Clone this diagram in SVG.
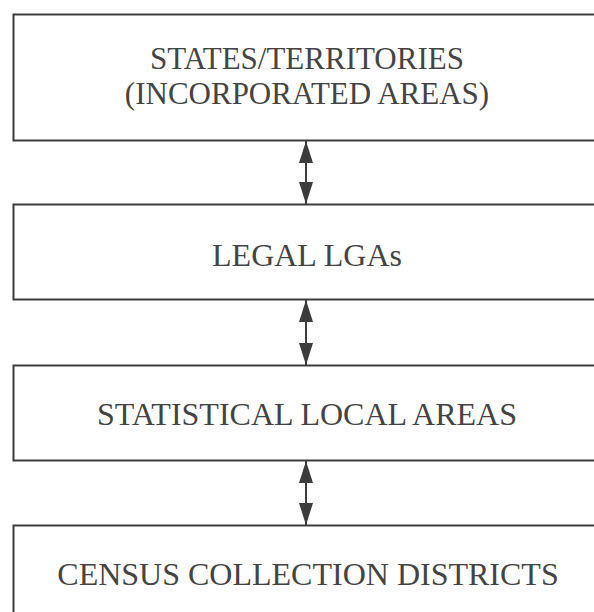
<svg xmlns="http://www.w3.org/2000/svg" width="594" height="612" viewBox="0 0 594 612">
<style>
.box{fill:#fff;stroke:#3c3c3c;stroke-width:2}
.lbl{font-family:"Liberation Serif","Times New Roman",serif;font-size:32px;fill:#444;text-anchor:middle}
.lbl2{font-size:31px}
.conn{stroke:#3c3c3c;stroke-width:2;fill:none;marker-start:url(#ah);marker-end:url(#ah)}
</style>
<defs>
<marker id="ah" viewBox="0 0 22 14" refX="22" refY="7" markerWidth="22" markerHeight="14" markerUnits="userSpaceOnUse" orient="auto-start-reverse">
<path d="M0,0 L22,7 L0,14 Z" fill="#3c3c3c"/>
</marker>
</defs>
<rect width="594" height="612" fill="#fff"/>
<g id="states">
<rect class="box" x="13.5" y="14.5" width="620" height="126"/>
<text class="lbl lbl2" x="307" y="69">STATES/TERRITORIES</text>
<text class="lbl lbl2" x="307" y="104">(INCORPORATED AREAS)</text>
</g>
<g id="lgas">
<rect class="box" x="13.5" y="204.5" width="620" height="95"/>
<text class="lbl" x="307" y="266">LEGAL LGAs</text>
</g>
<g id="sla">
<rect class="box" x="13.5" y="365.5" width="620" height="95"/>
<text class="lbl" x="307" y="425">STATISTICAL LOCAL AREAS</text>
</g>
<g id="ccd">
<rect class="box" x="13.5" y="525.5" width="620" height="120"/>
<text class="lbl" x="308" y="585">CENSUS COLLECTION DISTRICTS</text>
</g>
<g id="connectors">
<line class="conn" x1="306" y1="141" x2="306" y2="204"/>
<line class="conn" x1="306" y1="300" x2="306" y2="365"/>
<line class="conn" x1="306" y1="461" x2="306" y2="525"/>
</g>
</svg>
